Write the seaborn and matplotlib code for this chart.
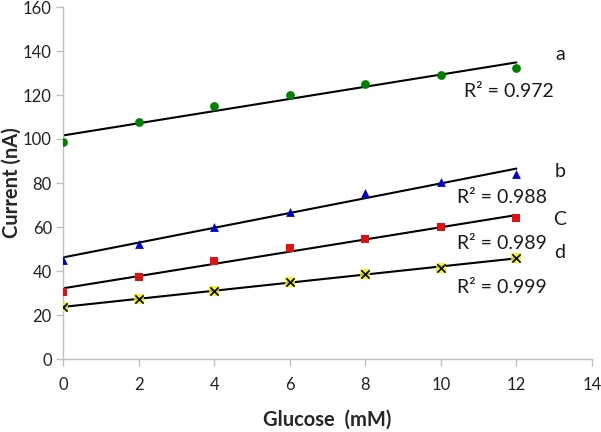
import numpy as np
import pandas as pd
import matplotlib
matplotlib.use("Agg")
import matplotlib.pyplot as plt
import seaborn as sns

# Data
glucose = [0, 2, 4, 6, 8, 10, 12]
curve_a = [98.5, 107.5, 115, 120, 125, 129, 132.5]
curve_b = [45, 52.5, 60, 67, 75.5, 80.5, 84]
curve_c = [30.5, 37.5, 44.5, 50.5, 54.5, 60, 64]
curve_d = [23.5, 27.5, 31, 35, 38.5, 41.5, 46]

letters = ["a", "b", "C", "d"]
r2_labels = ["R² = 0.972", "R² = 0.988", "R² = 0.989", "R² = 0.999"]

df = pd.DataFrame({
    "Glucose": glucose * 4,
    "Current": curve_a + curve_b + curve_c + curve_d,
    "Series": sum([[s] * len(glucose) for s in letters], []),
})

sns.set_style("white")
plt.rcParams["font.family"] = ["Lato", "DejaVu Sans"]

fig, ax = plt.subplots(figsize=(6.01, 4.32), dpi=100)
fig.subplots_adjust(left=63 / 601, right=592 / 601, bottom=1 - 359 / 432, top=1 - 7 / 432)

styles = {
    "a": dict(marker="o", color="#008000", s=40),
    "b": dict(marker="^", color="#0000cc", s=40),
    "C": dict(marker="s", color="#e01010", s=34),
}

for name in letters:
    sub = df[df["Series"] == name]
    # linear trendline from 0 to 12
    k, b = np.polyfit(sub["Glucose"], sub["Current"], 1)
    xs = np.array([sub["Glucose"].min(), sub["Glucose"].max()])
    ax.plot(xs, k * xs + b, color="black", lw=1.5, zorder=2)
    if name == "d":
        sns.scatterplot(data=sub, x="Glucose", y="Current", marker="s", color="#f5f000",
                        s=55, linewidth=0, alpha=0.8, ax=ax, zorder=3)
        sns.scatterplot(data=sub, x="Glucose", y="Current", marker="x", color="black",
                        s=35, linewidth=1.2, ax=ax, zorder=4)
    else:
        sns.scatterplot(data=sub, x="Glucose", y="Current", linewidth=0, ax=ax,
                        zorder=3, **styles[name])

# annotations
letter_pos = [(13.15, 138.2), (13.15, 85), (13.15, 63.6), (13.15, 48.6)]
r2_pos = [(10.6, 121.4), (10.42, 73.2), (10.42, 52.7), (10.42, 32.3)]
for lab, (x, y) in zip(letters, letter_pos):
    ax.text(x, y, lab, fontsize=14, ha="center", va="center", color="#1a1a1a")
for lab, (x, y) in zip(r2_labels, r2_pos):
    ax.text(x, y, lab, fontsize=14, ha="left", va="center", color="#1a1a1a")

ax.set_xlim(0, 14)
ax.set_ylim(0, 160)
ax.set_xticks(range(0, 15, 2))
ax.set_yticks(range(0, 161, 20))
ax.tick_params(axis="both", labelsize=12, colors="#bfbfbf", labelcolor="#222222",
               length=5, width=1, direction="out", bottom=True, left=True)
ax.tick_params(axis="x", pad=8)
ax.tick_params(axis="y", pad=3)
for side in ["top", "right"]:
    ax.spines[side].set_visible(False)
for side in ["left", "bottom"]:
    ax.spines[side].set_color("#bfbfbf")
    ax.spines[side].set_linewidth(1)

ax.set_xlabel("Glucose  (mM)", fontsize=14.5, fontweight="bold")
ax.set_ylabel("Current (nA)", fontsize=14.5, fontweight="bold")
ax.xaxis.set_label_coords(0.5, (359 - 420) / 352)
ax.yaxis.set_label_coords((12 - 63) / 529, 0.5)
ax.xaxis.label.set_va("center")
ax.yaxis.label.set_va("center")

fig.savefig("out.png", dpi=100)
